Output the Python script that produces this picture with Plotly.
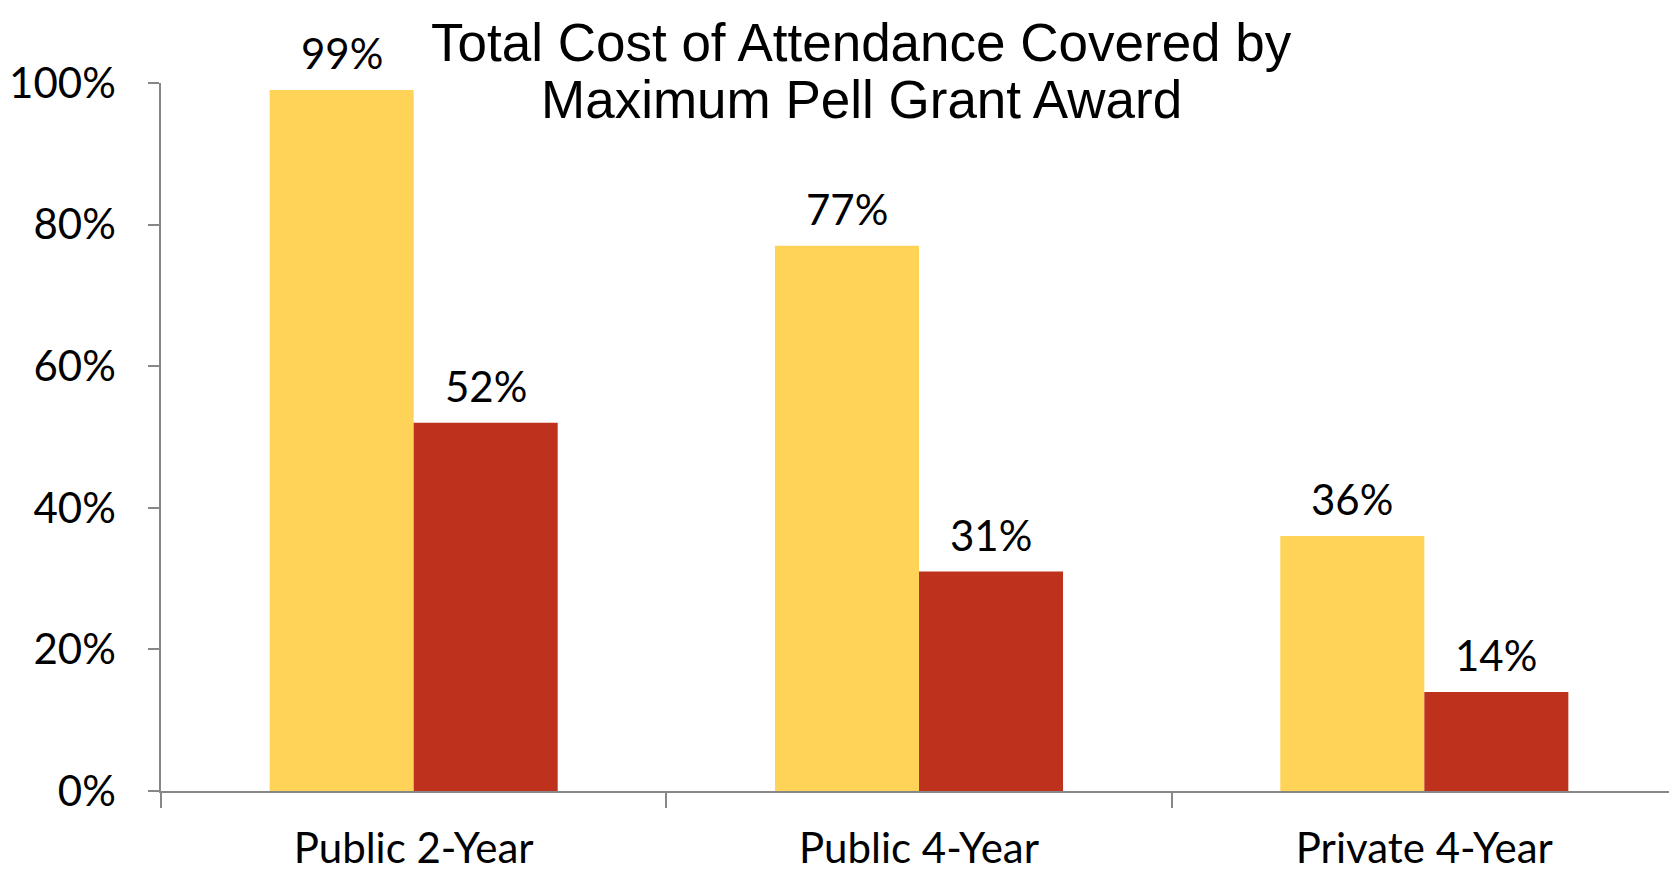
import plotly.graph_objects as go

categories = ["Public 2-Year", "Public 4-Year", "Private 4-Year"]
series_a = [0.99, 0.77, 0.36]
series_b = [0.52, 0.31, 0.14]
labels_a = ["99%", "77%", "36%"]
labels_b = ["52%", "31%", "14%"]
title_lines = ["Total Cost of Attendance Covered by", "Maximum Pell Grant Award"]
y_ticks = [0, 0.2, 0.4, 0.6, 0.8, 1.0]

YELLOW = "#FED357"
RED = "#BE311D"
AXIS = "#878787"
LABEL_FONT = dict(family="Lato, Open Sans, sans-serif", size=42, color="#000000")

fig = go.Figure()
fig.add_trace(go.Bar(x=categories, y=series_a, marker=dict(color=YELLOW, line=dict(width=0)), name="A"))
fig.add_trace(go.Bar(x=categories, y=series_b, marker=dict(color=RED, line=dict(width=0)), name="B"))

OFF = 8  # page body offset
W, H = 1677 - OFF, 873 - OFF
ml, mr, mt, mb = 161 - OFF, 0, 83 - OFF, 82
plot_w = W - ml - mr
plot_h = H - mt - mb
bargap = 0.43
bar_px = plot_w / len(categories) * (1 - bargap) / 2

annotations = []
for c, v, t in zip(categories, series_a, labels_a):
    annotations.append(dict(x=c, y=v, xref="x", yref="y", text=t, showarrow=False,
                            xshift=-bar_px / 2, yshift=10, yanchor="bottom", font=LABEL_FONT))
for c, v, t in zip(categories, series_b, labels_b):
    annotations.append(dict(x=c, y=v, xref="x", yref="y", text=t, showarrow=False,
                            xshift=bar_px / 2, yshift=10, yanchor="bottom", font=LABEL_FONT))

title_font = dict(family="Liberation Sans, Arial, sans-serif", size=53, color="#000000")
for i, line in enumerate(title_lines):
    ypix = [42, 99][i]
    annotations.append(dict(x=(861 - 161) / plot_w, y=(791 - ypix) / plot_h, xref="paper", yref="paper",
                            text=line, showarrow=False, xanchor="center", yanchor="middle",
                            borderpad=0, font=title_font))

fig.update_layout(
    width=W, height=H,
    margin=dict(l=ml, r=mr, t=mt, b=mb, autoexpand=False),
    paper_bgcolor="white", plot_bgcolor="white",
    barmode="group", bargap=bargap, bargroupgap=0,
    showlegend=False,
    annotations=annotations,
)
fig.update_xaxes(
    type="category", showline=True, linecolor=AXIS, linewidth=2,
    ticks="outside", tickson="boundaries", ticklen=15, tickcolor=AXIS, tickwidth=1.5,
    tickfont=LABEL_FONT, ticklabelstandoff=20, showgrid=False, zeroline=False, automargin=False,
)
fig.update_yaxes(
    range=[0, 1.0], tickvals=y_ticks, tickformat=".0%", showline=True, linecolor=AXIS, linewidth=1.5,
    ticks="outside", ticklen=11, tickcolor=AXIS, tickwidth=1.5,
    tickfont=LABEL_FONT, ticklabelstandoff=24, showgrid=False, zeroline=False, automargin=False,
)

fig.write_html("out.html")
